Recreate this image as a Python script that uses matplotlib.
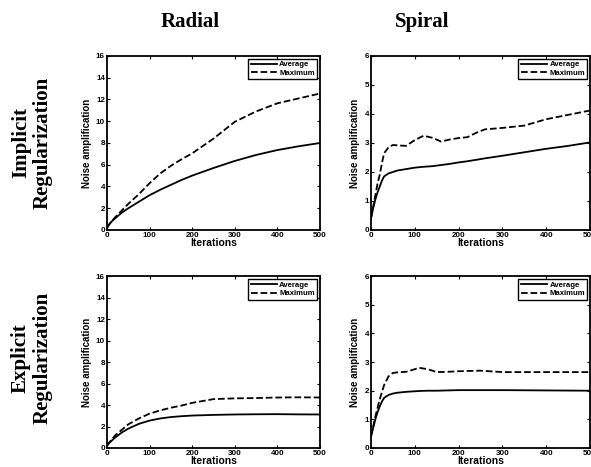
#! /bin/python3

import matplotlib
matplotlib.use("Agg")
from matplotlib import pyplot as plt
import matplotlib.ticker as mticker

# DATA
radial_imp_x = [0, 5, 10, 20, 35, 50, 75, 100, 125, 150, 175, 200, 250, 300, 350, 400, 450, 500]
radial_imp_avg = [0.2, 0.5, 0.75, 1.1, 1.6, 2.0, 2.6, 3.2, 3.7, 4.15, 4.6, 5.0, 5.7, 6.35, 6.9, 7.35, 7.7, 8.0]
radial_imp_max = [0.2, 0.5, 0.75, 1.2, 1.8, 2.4, 3.3, 4.3, 5.2, 5.9, 6.5, 7.05, 8.4, 9.95, 10.9, 11.65, 12.1, 12.55]

spiral_imp_x = [0, 5, 10, 15, 20, 25, 30, 40, 50, 60, 80, 100, 120, 140, 160, 180, 200, 220, 240, 260, 300, 350, 400, 450, 500]
spiral_imp_avg = [0.4, 0.75, 1.05, 1.3, 1.5, 1.7, 1.85, 1.95, 2.0, 2.05, 2.1, 2.15, 2.18, 2.2, 2.24, 2.28, 2.33, 2.37, 2.42, 2.47, 2.56, 2.68, 2.8, 2.9, 3.02]
spiral_imp_max = [0.4, 0.8, 1.2, 1.6, 1.9, 2.3, 2.65, 2.85, 2.93, 2.92, 2.9, 3.1, 3.25, 3.18, 3.05, 3.12, 3.17, 3.2, 3.35, 3.47, 3.52, 3.6, 3.82, 3.97, 4.12]

radial_exp_x = [0, 5, 10, 20, 35, 50, 75, 100, 125, 150, 175, 200, 250, 300, 350, 400, 450, 500]
radial_exp_avg = [0.2, 0.45, 0.65, 1.0, 1.45, 1.8, 2.25, 2.55, 2.75, 2.88, 2.96, 3.02, 3.08, 3.12, 3.14, 3.15, 3.13, 3.12]
radial_exp_max = [0.2, 0.5, 0.75, 1.2, 1.7, 2.2, 2.75, 3.2, 3.5, 3.75, 3.95, 4.2, 4.55, 4.62, 4.65, 4.7, 4.72, 4.7]

spiral_exp_x = [0, 5, 10, 15, 20, 25, 30, 40, 50, 60, 80, 100, 110, 130, 150, 175, 200, 250, 300, 400, 500]
spiral_exp_avg = [0.4, 0.7, 1.0, 1.25, 1.45, 1.62, 1.75, 1.85, 1.9, 1.93, 1.96, 1.98, 1.99, 2.0, 2.0, 2.01, 2.02, 2.02, 2.02, 2.01, 2.0]
spiral_exp_max = [0.4, 0.75, 1.1, 1.4, 1.7, 1.95, 2.2, 2.5, 2.62, 2.64, 2.66, 2.75, 2.8, 2.75, 2.65, 2.66, 2.68, 2.7, 2.65, 2.65, 2.65]

col_titles = ["Radial", "Spiral"]
row_titles = ["Implicit\nRegularization", "Explicit\nRegularization"]


def draw_panel(ax, x, avg, mx, ymax, yticks):
    ax.plot(x, avg, "k-", lw=1.3, label="Average")
    ax.plot(x, mx, "k--", lw=1.3, label="Maximum")
    ax.set_xlim(0, 500)
    ax.set_ylim(0, ymax)
    ax.xaxis.set_major_locator(mticker.MultipleLocator(100))
    ax.set_yticks(yticks)
    ax.tick_params(direction="in", top=True, right=True, length=2.5, width=0.8,
                   labelsize=5.8, pad=1.5)
    for lab in ax.get_xticklabels() + ax.get_yticklabels():
        lab.set_fontweight("bold")
    for sp in ax.spines.values():
        sp.set_linewidth(1.3)
    ax.set_xlabel("Iterations", fontsize=7.5, fontweight="bold", labelpad=-1)
    ax.set_ylabel("Noise amplification", fontsize=7, fontweight="bold", labelpad=3)
    leg = ax.legend(loc="upper right", handlelength=3.4, borderpad=0.3,
                    labelspacing=0.15, handletextpad=0.3, borderaxespad=0.35,
                    fancybox=False, framealpha=1, prop={"weight": "bold", "size": 5.6})
    leg.get_frame().set_edgecolor("black")
    leg.get_frame().set_linewidth(1.0)


def main():
    plt.rcParams["font.family"] = ["Liberation Sans", "DejaVu Sans"]
    fig = plt.figure(figsize=(5.91, 4.67), dpi=100)

    # SET AXES
    ax_tl = fig.add_axes([0.181, 0.5075, 0.3604, 0.3726])
    ax_tr = fig.add_axes([0.6277, 0.5075, 0.3706, 0.3726])
    ax_bl = fig.add_axes([0.181, 0.0407, 0.3604, 0.368])
    ax_br = fig.add_axes([0.6277, 0.0407, 0.3706, 0.368])

    draw_panel(ax_tl, radial_imp_x, radial_imp_avg, radial_imp_max, 16, range(0, 17, 2))
    draw_panel(ax_tr, spiral_imp_x, spiral_imp_avg, spiral_imp_max, 6, range(0, 7))
    draw_panel(ax_bl, radial_exp_x, radial_exp_avg, radial_exp_max, 16, range(0, 17, 2))
    draw_panel(ax_br, spiral_exp_x, spiral_exp_avg, spiral_exp_max, 6, range(0, 7))

    # TITLES
    serif = ["Liberation Serif", "DejaVu Serif"]
    fig.text(190 / 591, 1 - 22 / 467, col_titles[0], ha="center", va="center",
             fontsize=15, fontweight="bold", family=serif)
    fig.text(422 / 591, 1 - 22 / 467, col_titles[1], ha="center", va="center",
             fontsize=15, fontweight="bold", family=serif)
    fig.text(32 / 591, 1 - 143 / 467, row_titles[0], ha="center", va="center",
             rotation=90, fontsize=15, fontweight="bold", family=serif,
             linespacing=1.12)
    fig.text(32 / 591, 1 - 358 / 467, row_titles[1], ha="center", va="center",
             rotation=90, fontsize=15, fontweight="bold", family=serif,
             linespacing=1.12)

    fig.savefig("out.png", dpi=100)


if __name__ == "__main__":
    main()
